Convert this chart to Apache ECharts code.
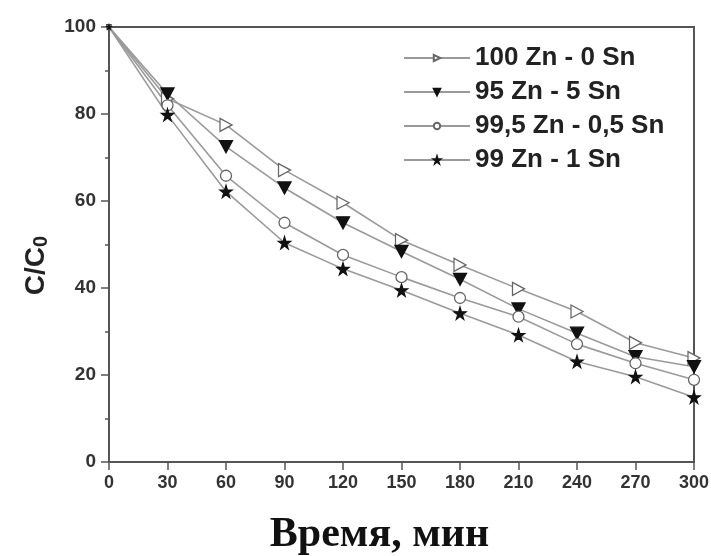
<!DOCTYPE html>
<html><head><meta charset="utf-8">
<script src="https://cdn.jsdelivr.net/npm/echarts@6/dist/echarts.min.js"></script>
<style>html,body{margin:0;padding:0;background:#fff}#c{width:711px;height:556px}</style>
</head><body><div id="c"></div>
<script>
const times = [0, 30, 60, 90, 120, 150, 180, 210, 240, 270, 300];
const zn100 = [100, 83.5, 77.5, 67.1, 59.6, 51.0, 45.3, 39.8, 34.6, 27.4, 23.9];
const zn95 = [100, 84.6, 72.5, 63.0, 55.0, 48.4, 42.0, 35.2, 29.6, 24.2, 21.9];
const zn995 = [100, 82.0, 65.8, 55.0, 47.6, 42.5, 37.7, 33.4, 27.1, 22.7, 18.9];
const zn99 = [100, 79.8, 62.2, 50.4, 44.4, 39.5, 34.2, 29.2, 23.1, 19.6, 14.9];
const names = ['100 Zn - 0 Sn', '95 Zn - 5 Sn', '99,5 Zn - 0,5 Sn', '99 Zn - 1 Sn'];
const yTicks = [0, 20, 40, 60, 80, 100];

const pair = arr => times.map((t, i) => i === 0 ? { value: [t, arr[i]], symbolSize: 4 } : [t, arr[i]]);
const rightTri = 'path://M0,0 L10,5 L0,10 Z';
const star = 'path://M50,0 L61,35 L98,35 L68,57 L79,91 L50,70 L21,91 L32,57 L2,35 L39,35 Z';
const lineCol = '#9a9a9a';
function ser(name, data, symbol, size, fill, border, rot) {
  return {
    name, type: 'line', data: pair(data), symbol, symbolSize: size, symbolRotate: rot || 0,
    lineStyle: { color: lineCol, width: 1.6 },
    itemStyle: { color: fill, borderColor: border, borderWidth: 1.3 },
    showAllSymbol: true, z: 3
  };
}
const sans = 'Liberation Sans, Arial, sans-serif';
const chart = echarts.init(document.getElementById('c'));
chart.setOption({
  animation: false,
  backgroundColor: '#fff',
  grid: { left: 109, right: 17, top: 27, bottom: 94, show: true, borderColor: '#555', borderWidth: 2, outerBoundsMode: 'none', containLabel: false },
  legend: {
    left: 398, top: 40, orient: 'vertical', itemWidth: 66, itemHeight: 8, itemGap: 8,
    textStyle: { fontFamily: sans, fontWeight: 'bold', fontSize: 26, color: '#222' },
    data: names
  },
  xAxis: {
    type: 'value', min: 0, max: 300, interval: 30,
    name: 'Время, мин', nameLocation: 'middle', nameGap: 52,
    nameTextStyle: { fontFamily: 'Liberation Serif, Times New Roman, serif', fontWeight: 'bold', fontSize: 42, color: '#111', padding: [0, 44, 0, 0] },
    axisLine: { show: true, lineStyle: { color: '#555', width: 2 } },
    axisTick: { show: true, length: 8, lineStyle: { color: '#555', width: 1.5 } },
    axisLabel: { fontFamily: sans, fontWeight: 'bold', fontSize: 18, color: '#333', margin: 12 },
    splitLine: { show: false }
  },
  yAxis: {
    type: 'value', min: 0, max: 100, interval: 20,
    name: '{a|C/C}{b|0}', nameLocation: 'middle', nameGap: 58, nameRotate: 90,
    nameTextStyle: {
      padding: [0, 42, 0, 0],
      rich: {
        a: { fontFamily: sans, fontWeight: 'bold', fontSize: 28, color: '#222' },
        b: { fontFamily: sans, fontWeight: 'bold', fontSize: 20, color: '#222', verticalAlign: 'bottom', padding: [10, 0, 0, 0] }
      }
    },
    axisLine: { show: true, lineStyle: { color: '#555', width: 2 } },
    axisTick: { show: true, length: 8, lineStyle: { color: '#555', width: 1.5 } },
    minorTick: { show: true, splitNumber: 2, length: 4, lineStyle: { color: '#555', width: 1.5 } },
    axisLabel: { fontFamily: sans, fontWeight: 'bold', fontSize: 19, color: '#333', margin: 13,
      formatter: v => yTicks.includes(v) ? String(v) : '' },
    splitLine: { show: false }
  },
  series: [
    ser(names[0], zn100, rightTri, [12, 13], '#fff', '#666'),
    ser(names[1], zn95, 'triangle', [13, 12], '#111', '#111', 180),
    ser(names[2], zn995, 'circle', 11, '#fff', '#666'),
    ser(names[3], zn99, star, 12, '#111', '#111')
  ]
});
</script></body></html>
